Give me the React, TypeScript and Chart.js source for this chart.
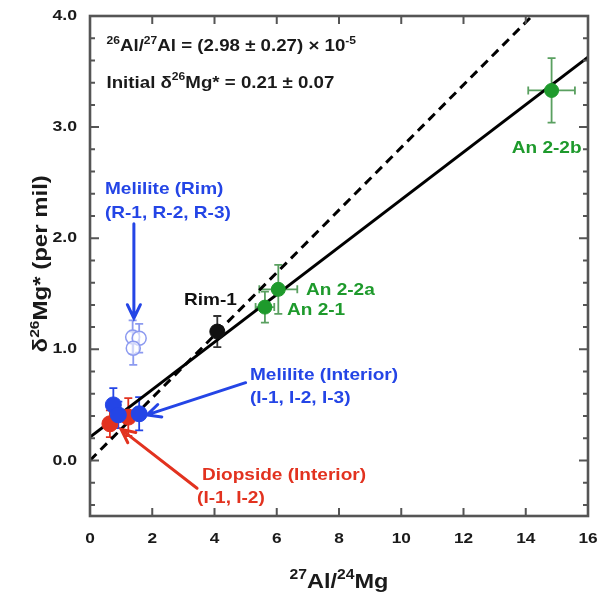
import React, { useEffect, useRef } from 'react';
import { Chart, registerables } from 'chart.js';

Chart.register(...registerables);

// ---------- data ----------
const xTickValues = [0, 2, 4, 6, 8, 10, 12, 14, 16];
const yTickValues = [0, 1, 2, 3, 4];
const yTickLabels = ['0.0', '1.0', '2.0', '3.0', '4.0'];
const yMinorTicks = [-0.4, -0.2, 0.2, 0.4, 0.6, 0.8, 1.2, 1.4, 1.6, 1.8, 2.2, 2.4, 2.6, 2.8, 3.2, 3.4, 3.6, 3.8];

const meliliteRimX = [1.37, 1.58, 1.39];
const meliliteRimY = [1.11, 1.10, 1.01];
const meliliteRimErrY = [0.15, 0.13, 0.15];

const meliliteIntX = [0.75, 0.91, 1.58];
const meliliteIntY = [0.5, 0.41, 0.42];
const meliliteIntErrY = [0.15, 0.12, 0.15];

const diopsideX = [0.64, 1.23];
const diopsideY = [0.33, 0.39];
const diopsideErrY = [0.12, 0.17];

const rimX = [4.09];
const rimY = [1.16];
const rimErrY = [0.14];

const anorthiteX = [5.62, 6.05, 14.83];
const anorthiteY = [1.38, 1.54, 3.33];
const anorthiteErrX = [0.3, 0.61, 0.75];
const anorthiteErrY = [0.14, 0.22, 0.29];

const fitLineX = [0, 16];
const fitLineY = [0.21, 3.63];
const refLineX = [0, 14.2];
const refLineY = [0, 4.0];

// ---------- styles ----------
const BLUE = '#2445e6';
const BLUE_LIGHT = '#8c9af0';
const RED = '#e2321f';
const GREEN = '#1e9a2c';
const GREEN_ERR = '#5aa060';
const BLACK = '#111111';
const FRAME = '#555555';
const FONT = '"Liberation Sans", Arial, sans-serif';

type Seg = { t: string; sup?: boolean };

const textLabels = [
  { text: 'Melilite (Rim)', x: 0.48, y: 2.44, color: BLUE },
  { text: '(R-1, R-2, R-3)', x: 0.48, y: 2.22, color: BLUE },
  { text: 'Rim-1', x: 3.02, y: 1.44, color: BLACK },
  { text: 'An 2-2a', x: 6.94, y: 1.53, color: GREEN },
  { text: 'An 2-1', x: 6.33, y: 1.35, color: GREEN },
  { text: 'An 2-2b', x: 13.55, y: 2.81, color: GREEN },
  { text: 'Melilite (Interior)', x: 5.14, y: 0.77, color: BLUE },
  { text: '(I-1, I-2, I-3)', x: 5.14, y: 0.56, color: BLUE },
  { text: 'Diopside (Interior)', x: 3.6, y: -0.13, color: RED },
  { text: '(I-1, I-2)', x: 3.44, y: -0.34, color: RED },
];

const arrows = [
  { x1: 1.41, y1: 2.13, x2: 1.41, y2: 1.28, color: BLUE },
  { x1: 5.0, y1: 0.7, x2: 1.83, y2: 0.41, color: BLUE },
  { x1: 3.44, y1: -0.25, x2: 1.0, y2: 0.28, color: RED },
];

const infoLines: { segs: Seg[]; x: number; y: number }[] = [
  {
    segs: [{ t: '26', sup: true }, { t: 'Al/' }, { t: '27', sup: true }, { t: 'Al = (2.98 ± 0.27) × 10' }, { t: '-5', sup: true }],
    x: 0.53,
    y: 3.74,
  },
  {
    segs: [{ t: 'Initial δ' }, { t: '26', sup: true }, { t: 'Mg* = 0.21 ± 0.07' }],
    x: 0.53,
    y: 3.41,
  },
];

const xTitle: Seg[] = [{ t: '27', sup: true }, { t: 'Al/' }, { t: '24', sup: true }, { t: 'Mg' }];
const yTitle: Seg[] = [{ t: 'δ' }, { t: '26', sup: true }, { t: 'Mg* (per mil)' }];

function font(size: number) {
  return `bold ${size}px ${FONT}`;
}

function fillScaled(ctx: CanvasRenderingContext2D, text: string, x: number, y: number, align: CanvasTextAlign, sx: number) {
  ctx.save();
  ctx.translate(x, y);
  ctx.scale(sx, 1);
  ctx.textAlign = align;
  ctx.fillText(text, 0, 0);
  ctx.restore();
}

function drawRich(ctx: CanvasRenderingContext2D, segs: Seg[], x: number, y: number, size: number, color: string, align: 'left' | 'center', sx: number) {
  const supSize = Math.round(size * 0.66);
  const widths = segs.map((s) => {
    ctx.font = font(s.sup ? supSize : size);
    return ctx.measureText(s.t).width;
  });
  const total = widths.reduce((a, b) => a + b, 0);
  ctx.save();
  ctx.translate(x, y);
  ctx.scale(sx, 1);
  let cx = align === 'center' ? -total / 2 : 0;
  ctx.fillStyle = color;
  ctx.textAlign = 'left';
  ctx.textBaseline = 'alphabetic';
  segs.forEach((s, i) => {
    ctx.font = font(s.sup ? supSize : size);
    ctx.fillText(s.t, cx, s.sup ? -size * 0.42 : 0);
    cx += widths[i];
  });
  ctx.restore();
}

function drawArrow(ctx: CanvasRenderingContext2D, x1: number, y1: number, x2: number, y2: number, color: string) {
  const ang = Math.atan2(y2 - y1, x2 - x1);
  const head = 15;
  const spread = 0.45;
  ctx.save();
  ctx.strokeStyle = color;
  ctx.lineWidth = 3;
  ctx.lineCap = 'round';
  ctx.beginPath();
  ctx.moveTo(x1, y1);
  ctx.lineTo(x2, y2);
  ctx.moveTo(x2 - head * Math.cos(ang - spread), y2 - head * Math.sin(ang - spread));
  ctx.lineTo(x2, y2);
  ctx.lineTo(x2 - head * Math.cos(ang + spread), y2 - head * Math.sin(ang + spread));
  ctx.stroke();
  ctx.restore();
}

const errorBarPlugin = {
  id: 'errorBars',
  beforeDatasetsDraw(chart: any) {
    const ctx: CanvasRenderingContext2D = chart.ctx;
    const xs = chart.scales.x;
    const ys = chart.scales.y;
    chart.data.datasets.forEach((ds: any) => {
      if (!ds.errY) return;
      ctx.save();
      ctx.strokeStyle = ds.errColor;
      ctx.lineWidth = 1.8;
      ds.data.forEach((p: any, i: number) => {
        const px = xs.getPixelForValue(p.x);
        const py = ys.getPixelForValue(p.y);
        const cap = 4;
        const ey = ds.errY[i];
        if (ey) {
          const t = ys.getPixelForValue(p.y + ey);
          const b = ys.getPixelForValue(p.y - ey);
          ctx.beginPath();
          ctx.moveTo(px, t);
          ctx.lineTo(px, b);
          ctx.moveTo(px - cap, t);
          ctx.lineTo(px + cap, t);
          ctx.moveTo(px - cap, b);
          ctx.lineTo(px + cap, b);
          ctx.stroke();
        }
        const ex = ds.errX ? ds.errX[i] : 0;
        if (ex) {
          const l = xs.getPixelForValue(p.x - ex);
          const r = xs.getPixelForValue(p.x + ex);
          ctx.beginPath();
          ctx.moveTo(l, py);
          ctx.lineTo(r, py);
          ctx.moveTo(l, py - cap);
          ctx.lineTo(l, py + cap);
          ctx.moveTo(r, py - cap);
          ctx.lineTo(r, py + cap);
          ctx.stroke();
        }
      });
      ctx.restore();
    });
  },
};

const decorPlugin = {
  id: 'decor',
  afterDraw(chart: any) {
    const ctx: CanvasRenderingContext2D = chart.ctx;
    const xs = chart.scales.x;
    const ys = chart.scales.y;
    const a = chart.chartArea;
    ctx.save();

    // inside ticks
    ctx.strokeStyle = FRAME;
    ctx.lineWidth = 2;
    ctx.beginPath();
    xTickValues.forEach((v) => {
      const px = xs.getPixelForValue(v);
      ctx.moveTo(px, a.bottom);
      ctx.lineTo(px, a.bottom - 8);
      ctx.moveTo(px, a.top);
      ctx.lineTo(px, a.top + 8);
    });
    yTickValues.forEach((v) => {
      const py = ys.getPixelForValue(v);
      ctx.moveTo(a.left, py);
      ctx.lineTo(a.left + 9, py);
      ctx.moveTo(a.right, py);
      ctx.lineTo(a.right - 9, py);
    });
    yMinorTicks.forEach((v) => {
      const py = ys.getPixelForValue(v);
      ctx.moveTo(a.left, py);
      ctx.lineTo(a.left + 5, py);
      ctx.moveTo(a.right, py);
      ctx.lineTo(a.right - 5, py);
    });
    ctx.stroke();

    // frame
    ctx.lineWidth = 2.6;
    ctx.strokeRect(a.left, a.top, a.right - a.left, a.bottom - a.top);

    // tick labels
    ctx.fillStyle = '#1a1a1a';
    ctx.font = font(15);
    ctx.textBaseline = 'middle';
    xTickValues.forEach((v) => {
      fillScaled(ctx, String(v), xs.getPixelForValue(v), a.bottom + 23, 'center', 1.15);
    });
    yTickValues.forEach((v, i) => {
      fillScaled(ctx, yTickLabels[i], a.left - 13, ys.getPixelForValue(v), 'right', 1.18);
    });

    // axis titles
    drawRich(ctx, xTitle, (a.left + a.right) / 2, a.bottom + 72, 21, '#1a1a1a', 'center', 1.12);
    ctx.save();
    ctx.translate(a.left - 43, ys.getPixelForValue(1.77));
    ctx.rotate(-Math.PI / 2);
    drawRich(ctx, yTitle, 0, 0, 20, '#1a1a1a', 'center', 1.2);
    ctx.restore();

    // info text
    infoLines.forEach((l) => {
      drawRich(ctx, l.segs, xs.getPixelForValue(l.x), ys.getPixelForValue(l.y) + 6, 17, '#1a1a1a', 'left', 1.1);
    });

    // labels
    ctx.font = font(17);
    ctx.textBaseline = 'middle';
    textLabels.forEach((t) => {
      ctx.fillStyle = t.color;
      fillScaled(ctx, t.text, xs.getPixelForValue(t.x), ys.getPixelForValue(t.y), 'left', 1.12);
    });

    // arrows
    arrows.forEach((ar) => {
      drawArrow(ctx, xs.getPixelForValue(ar.x1), ys.getPixelForValue(ar.y1), xs.getPixelForValue(ar.x2), ys.getPixelForValue(ar.y2), ar.color);
    });
    ctx.restore();
  },
};

const pts = (xs: number[], ys: number[]) => xs.map((x, i) => ({ x, y: ys[i] }));

export default function App() {
  const ref = useRef<HTMLCanvasElement | null>(null);
  useEffect(() => {
    document.body.style.margin = '0';
    const canvas = ref.current;
    if (!canvas) return;
    const chart = new Chart(canvas, {
      type: 'scatter',
      data: {
        datasets: [
          {
            label: 'Melilite (Interior)',
            data: pts(meliliteIntX, meliliteIntY),
            pointRadius: 8,
            backgroundColor: BLUE,
            borderColor: BLUE,
            borderWidth: 1,
            order: 1,
            errY: meliliteIntErrY,
            errColor: BLUE,
          } as any,
          {
            label: 'Diopside (Interior)',
            data: pts(diopsideX, diopsideY),
            pointRadius: 8,
            backgroundColor: RED,
            borderColor: RED,
            borderWidth: 1,
            order: 2,
            errY: diopsideErrY,
            errColor: RED,
          } as any,
          {
            label: 'Melilite (Rim)',
            data: pts(meliliteRimX, meliliteRimY),
            pointRadius: 7,
            backgroundColor: 'rgba(255,255,255,0.6)',
            borderColor: BLUE_LIGHT,
            borderWidth: 1.5,
            order: 3,
            errY: meliliteRimErrY,
            errColor: BLUE_LIGHT,
          } as any,
          {
            label: 'Rim-1',
            data: pts(rimX, rimY),
            pointRadius: 7.5,
            backgroundColor: BLACK,
            borderColor: BLACK,
            order: 1,
            errY: rimErrY,
            errColor: '#333333',
          } as any,
          {
            label: 'An',
            data: pts(anorthiteX, anorthiteY),
            pointRadius: 7,
            backgroundColor: GREEN,
            borderColor: GREEN,
            order: 1,
            errY: anorthiteErrY,
            errX: anorthiteErrX,
            errColor: GREEN_ERR,
          } as any,
          {
            type: 'line',
            label: 'fit',
            data: pts(fitLineX, fitLineY),
            borderColor: '#000000',
            borderWidth: 3,
            pointRadius: 0,
            order: 10,
          } as any,
          {
            type: 'line',
            label: 'ref',
            data: pts(refLineX, refLineY),
            borderColor: '#000000',
            borderWidth: 3,
            borderDash: [9, 6],
            pointRadius: 0,
            order: 11,
          } as any,
        ],
      },
      options: {
        responsive: false,
        animation: false,
        layout: { padding: { left: 90, right: 17, top: 16, bottom: 79 } },
        scales: {
          x: { type: 'linear', min: 0, max: 16, display: false },
          y: { type: 'linear', min: -0.5, max: 4, display: false },
        },
        plugins: { legend: { display: false }, tooltip: { enabled: false } },
      },
      plugins: [errorBarPlugin, decorPlugin],
    });
    return () => chart.destroy();
  }, []);
  return (
    <div style={{ width: 605, height: 595, background: '#fff' }}>
      <canvas ref={ref} width={605} height={595} style={{ width: 605, height: 595, display: 'block' }} />
    </div>
  );
}
